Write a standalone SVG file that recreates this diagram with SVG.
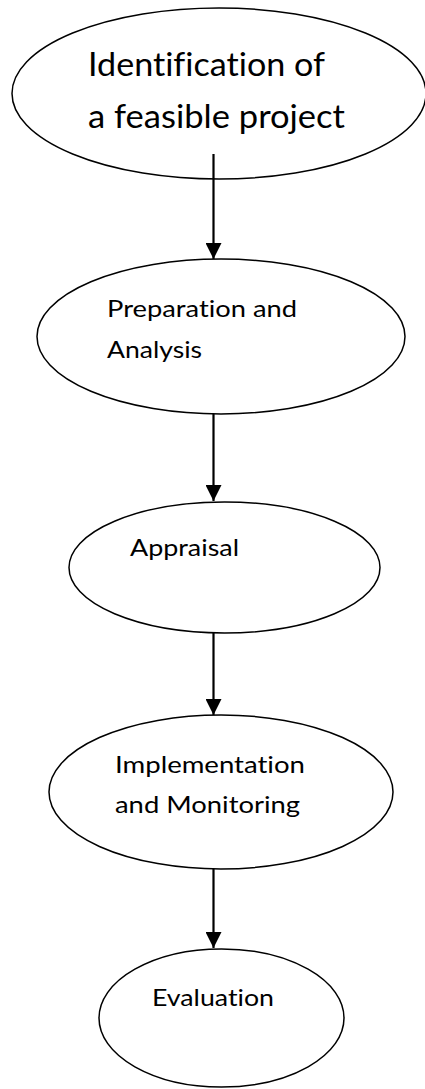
<svg xmlns="http://www.w3.org/2000/svg" width="425" height="1089" viewBox="0 0 425 1089">
<style>
.node ellipse{fill:#fff;stroke:#000;stroke-width:1.5}
.lbl{font-family:Lato,"Open Sans","Liberation Sans",sans-serif;fill:#000;font-variant-ligatures:none;font-feature-settings:"liga" 0,"clig" 0}
.big{font-size:32px}
.sm{font-size:24px}
.conn line{stroke:#000;stroke-width:2.2}
</style>
<defs>
<marker id="ah" markerUnits="userSpaceOnUse" markerWidth="16" markerHeight="16" viewBox="0 0 16 16" refX="16" refY="8" orient="auto">
<path d="M0,0 L16,8 L0,16 Z" fill="#000"/>
</marker>
</defs>
<g id="n1" class="node">
<ellipse cx="219" cy="93.5" rx="207" ry="85.5"/>
<text class="lbl big" x="88" y="76" textLength="237" lengthAdjust="spacingAndGlyphs">Identification of</text>
<text class="lbl big" x="88" y="128" textLength="257" lengthAdjust="spacingAndGlyphs">a feasible project</text>
</g>
<g id="n2" class="node">
<ellipse cx="221" cy="336.5" rx="184" ry="77.5"/>
<text class="lbl sm" x="107" y="317" textLength="190" lengthAdjust="spacingAndGlyphs">Preparation and</text>
<text class="lbl sm" x="107" y="358" textLength="95" lengthAdjust="spacingAndGlyphs">Analysis</text>
</g>
<g id="n3" class="node">
<ellipse cx="224.5" cy="567.5" rx="155.5" ry="65.5"/>
<text class="lbl sm" x="130" y="556" textLength="109" lengthAdjust="spacingAndGlyphs">Appraisal</text>
</g>
<g id="n4" class="node">
<ellipse cx="221" cy="792" rx="172" ry="77"/>
<text class="lbl sm" x="115" y="773" textLength="190" lengthAdjust="spacingAndGlyphs">Implementation</text>
<text class="lbl sm" x="115" y="813" textLength="185" lengthAdjust="spacingAndGlyphs">and Monitoring</text>
</g>
<g id="n5" class="node">
<ellipse cx="221.5" cy="1018" rx="122.5" ry="69"/>
<text class="lbl sm" x="152" y="1006" textLength="122" lengthAdjust="spacingAndGlyphs">Evaluation</text>
</g>
<g id="connectors" class="conn">
<line x1="213.5" y1="154" x2="213.5" y2="259" marker-end="url(#ah)"/>
<line x1="213.5" y1="414" x2="213.5" y2="501" marker-end="url(#ah)"/>
<line x1="213.5" y1="633" x2="213.5" y2="715" marker-end="url(#ah)"/>
<line x1="213.5" y1="869" x2="213.5" y2="948" marker-end="url(#ah)"/>
</g>
</svg>
